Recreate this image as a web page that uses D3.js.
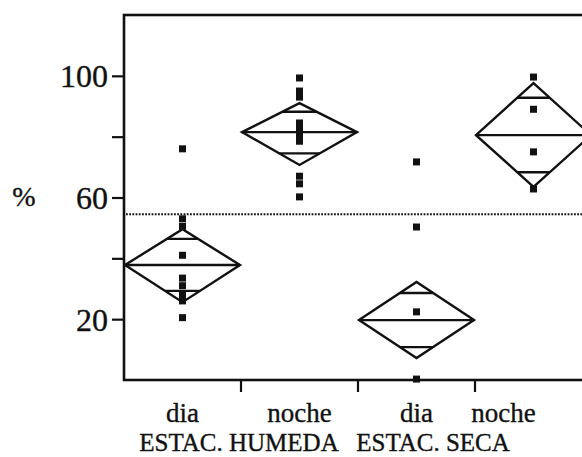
<!DOCTYPE html>
<html><head><meta charset="utf-8">
<script src="https://cdn.jsdelivr.net/npm/d3@7/dist/d3.min.js"></script>
<style>body{margin:0;background:#fff}svg{display:block}text{font-family:"Liberation Serif","Times New Roman",serif;fill:#111;stroke:#111;stroke-width:0.35px}</style>
</head><body>
<script>
const categories = ["dia", "noche", "dia", "noche"];
const groups = ["ESTAC. HUMEDA", "ESTAC. SECA"];
const means = [37.8, 81.5, 19.7, 80.5];
const ciLow = [25.6, 70.7, 7.2, 63.5];
const ciHigh = [49.6, 91.0, 32.2, 97.6];
const overlapLow = [29.3, 74.5, 10.8, 68.3];
const overlapHigh = [46.4, 88.2, 28.6, 92.8];
const pointsDiaHumeda = [76, 53, 50.5, 41, 33.5, 31, 28, 26, 20.5];
const pointsNocheHumeda = [99.3, 95, 93, 84.5, 82.5, 80.5, 78.5, 67, 64.5, 60.2];
const pointsDiaSeca = [71.7, 50.3, 22.4, 0.3];
const pointsNocheSeca = [99.6, 89, 75, 62.8];
const refLine = 54.5;
const yTicks = [20, 40, 60, 80, 100];
const yTickLabels = ["20", "", "60", "", "100"];
const yLabel = "%";

const W = 582, H = 457;
const svg = d3.select("body").append("svg").attr("width", W).attr("height", H);
const x = d3.scaleBand().domain(d3.range(categories.length)).range([124, 592]).padding(0);
const y = d3.scaleLinear().domain([0, 120]).range([380, 15]);
const allPoints = [pointsDiaHumeda, pointsNocheHumeda, pointsDiaSeca, pointsNocheSeca];

// frame
svg.append("rect").attr("x", 124).attr("y", 15).attr("width", 468).attr("height", 365)
  .attr("fill", "none").attr("stroke", "#111").attr("stroke-width", 2.6);

// y axis
const yAxis = d3.axisLeft(y).tickValues(yTicks).tickSize(12).tickPadding(4)
  .tickFormat((d, i) => yTickLabels[i]);
const gy = svg.append("g").attr("transform", "translate(124,0)").call(yAxis);
gy.select(".domain").remove();
gy.selectAll("line").attr("stroke", "#111").attr("stroke-width", 2.2);
gy.selectAll("text").style("font-size", "32px").attr("dy", "0.34em");

// x axis ticks at boundaries
const bounds = d3.range(1, categories.length).map(i => x(i));
svg.selectAll(".xt").data(bounds).enter().append("line")
  .attr("x1", d => d).attr("x2", d => d).attr("y1", 380).attr("y2", 392)
  .attr("stroke", "#111").attr("stroke-width", 2.2);

// category labels
svg.selectAll(".cl").data(categories).enter().append("text")
  .attr("x", (d, i) => x(i) + x.bandwidth() / 2 + (i === 3 ? -30 : 0))
  .attr("y", 422).attr("text-anchor", "middle").style("font-size", "27px").text(d => d);

// group labels
const groupX = [239, 433];
svg.selectAll(".gl").data(groups).enter().append("text")
  .attr("x", (d, i) => groupX[i]).attr("y", 451).attr("text-anchor", "middle")
  .style("font-size", "25px").text(d => d);

// y label
svg.append("text").attr("x", 24).attr("y", 196).attr("dy", "0.34em").attr("text-anchor", "middle")
  .style("font-size", "28px").text(yLabel);

// reference dotted line
svg.append("line").attr("x1", 126).attr("x2", 592).attr("y1", y(refLine)).attr("y2", y(refLine))
  .attr("stroke", "#111").attr("stroke-width", 2).attr("stroke-dasharray", "1.8,1.4");

// diamonds
categories.forEach((c, i) => {
  const x0 = x(i) + 1, x1 = x(i) + x.bandwidth() - 1, xc = (x0 + x1) / 2;
  const g = svg.append("g").attr("fill", "none").attr("stroke", "#111").attr("stroke-width", 2.4);
  const ym = y(means[i]), yt = y(ciHigh[i]), yb = y(ciLow[i]);
  g.append("path").attr("d", `M${x0},${ym}L${xc},${yt}L${x1},${ym}L${xc},${yb}Z`).attr("stroke-linejoin", "miter");
  g.append("line").attr("x1", x0).attr("x2", x1).attr("y1", ym).attr("y2", ym);
  const half = (x1 - x0) / 2;
  [overlapHigh[i], overlapLow[i]].forEach(v => {
    const frac = Math.abs(y(v) - ym) / Math.abs((v > means[i] ? yt : yb) - ym);
    const hw = half * (1 - frac);
    g.append("line").attr("x1", xc - hw).attr("x2", xc + hw).attr("y1", y(v)).attr("y2", y(v));
  });
  // points
  svg.selectAll(null).data(allPoints[i]).enter().append("rect")
    .attr("x", xc - 3.5).attr("y", d => y(d) - 3.5).attr("width", 7).attr("height", 7).attr("fill", "#111");
});
</script>
</body></html>
